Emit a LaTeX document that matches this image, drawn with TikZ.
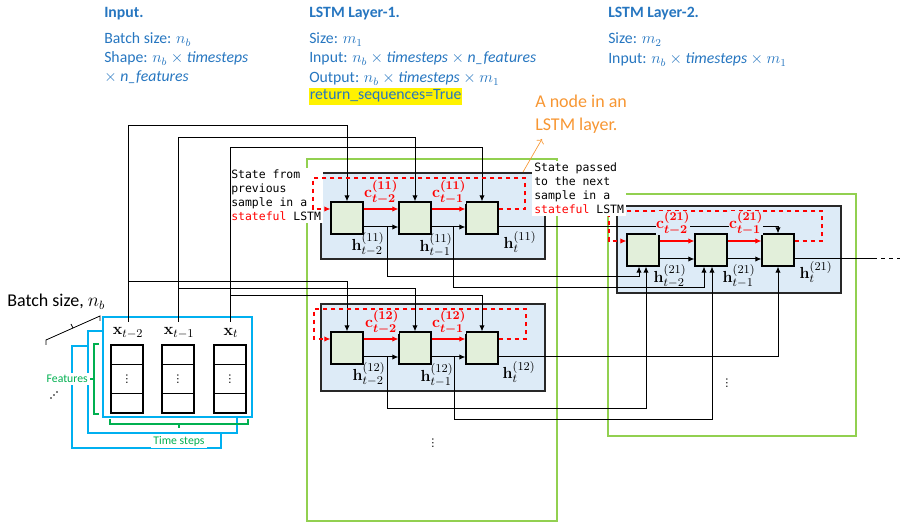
\documentclass[tikz,border=0pt]{standalone}
\usepackage[no-math]{fontspec}
\setmainfont{Carlito}
\newfontfamily\monofont{DejaVu Sans Mono}
\newfontfamily\dotsfont{DejaVu Sans}
\usetikzlibrary{arrows.meta,calc}
\definecolor{hdrblue}{RGB}{38,118,192}
\definecolor{nodeorange}{RGB}{247,150,50}
\definecolor{boxgreen}{RGB}{146,208,80}
\definecolor{layerblue}{RGB}{221,235,247}
\definecolor{cellgreen}{RGB}{226,239,218}
\definecolor{inputcyan}{RGB}{0,176,240}
\definecolor{bracegreen}{RGB}{0,176,80}
\definecolor{statered}{RGB}{255,0,0}
\definecolor{linegray}{RGB}{40,40,40}
\tikzset{
 hdr/.style={anchor=base west, inner sep=0pt, text=hdrblue, font=\fontsize{11.8}{13}\selectfont},
 hdrtitle/.style={hdr, font=\fontsize{11.8}{13}\selectfont\bfseries},
 cellbox/.style={draw=black, fill=cellgreen, line width=0.9pt, minimum size=24pt, inner sep=0pt},
 layerbox/.style={draw=linegray, fill=layerblue, line width=0.9pt},
 outerbox/.style={draw=boxgreen, line width=0.8pt},
 wire/.style={draw=black, line width=0.75pt},
 wirearr/.style={wire, -{Latex[length=4.5pt,width=4pt]}},
 redarr/.style={draw=statered, line width=0.8pt, -{Latex[length=4.5pt,width=4pt]}},
 reddash/.style={draw=statered, line width=0.8pt, dash pattern=on 3.5pt off 2.5pt, -{Latex[length=4.5pt,width=4pt]}},
 clabel/.style={text=statered, fill=layerblue, inner sep=0pt, font=\fontsize{12.5}{14}\selectfont\boldmath},
 hlabel/.style={inner sep=0pt, font=\fontsize{12.5}{14}\selectfont},
 statelabel/.style={anchor=north west, fill=white, inner sep=1.5pt, align=left, font=\monofont\fontsize{8.6}{10.5}\selectfont},
 cyanbox/.style={draw=inputcyan, fill=white, line width=0.8pt},
 colbox/.style={draw=black, line width=0.8pt, minimum width=24pt, minimum height=51pt, inner sep=0pt, font=\dotsfont\fontsize{8}{9}\selectfont},
 brace/.style={draw=bracegreen, line width=0.8pt},
 greenlabel/.style={text=bracegreen, fill=white, inner sep=1.5pt, font=\fontsize{8.8}{10}\selectfont},
 xlabel/.style={inner sep=1pt, font=\fontsize{13}{15}\selectfont},
 vdotlabel/.style={inner sep=0pt, font=\dotsfont\fontsize{8}{9}\selectfont},
}
\begin{document}
\begin{tikzpicture}[x=0.75pt,y=-0.75pt]
\useasboundingbox (0,0) rectangle (902,523);

% outer green boxes
\draw[outerbox] (307,159) rectangle (557,521);
\draw[outerbox] (608,194) rectangle (856,436);

% LSTM layer boxes
\draw[layerbox] (321,173) rectangle (545,259);
\draw[layerbox] (321,304) rectangle (545,391);
\draw[layerbox] (617,206) rectangle (841,293);

% label: state from previous sample
\node[statelabel] (statePrev) at (229,168) {State from\\previous\\sample in a\\\textcolor{statered}{stateful} LSTM};

% input block
\draw[cyanbox] (72,346) rectangle (221,448);
\draw[cyanbox] (88,331) rectangle (237,433);
\draw[cyanbox] (103,317) rectangle (252,417);
\node[colbox] (cola) at (127,379) {⋮};
\node[colbox] (colb) at (178,379) {⋮};
\node[colbox] (colc) at (230,379) {⋮};
\foreach \c in {cola,colb,colc}{
  \draw[wire] ([yshift=-15pt]\c.north west) -- ([yshift=-15pt]\c.north east);
  \draw[wire] ([yshift=15pt]\c.south west) -- ([yshift=15pt]\c.south east);
}
\node[xlabel] (xa) at (128,333) {$\mathbf{x}_{t-2}$};
\node[xlabel] (xb) at (179,333) {$\mathbf{x}_{t-1}$};
\node[xlabel] (xc) at (231,333) {$\mathbf{x}_{t}$};

% braces
\draw[brace] (99,344) -- (94,344) -- (94,414) -- (99,414);
\draw[brace] (94,379) -- (90,379);
\node[greenlabel, anchor=east] (feat) at (90,379) {Features};
\draw[brace] (110,419) -- (110,424) -- (248,424) -- (248,419);
\draw[brace] (179,424) -- (179,428);
\node[greenlabel] (tsteps) at (179,441) {Time steps};

% batch size
\node[anchor=base west, inner sep=0pt, font=\fontsize{13.5}{15}\selectfont] (batch) at (7,307) {Batch size, $n_b$};
\draw[wire, line width=0.6pt] (46,345) -- (46,340) -- (100,316) -- (100,321);
\draw[wire, line width=0.6pt] (73,328) -- (71,324);
\fill (51,398) circle[radius=0.6pt];
\fill (54,395) circle[radius=0.6pt];
\fill (57,392) circle[radius=0.6pt];

% cells
\node[cellbox] (c11a) at (347,218) {};
\node[cellbox] (c11b) at (415,218) {};
\node[cellbox] (c11c) at (482,218) {};
\node[cellbox] (c12a) at (347,348) {};
\node[cellbox] (c12b) at (415,348) {};
\node[cellbox] (c12c) at (482,348) {};
\node[cellbox] (c21a) at (643,250) {};
\node[cellbox] (c21b) at (711,250) {};
\node[cellbox] (c21c) at (778,250) {};

% input wires
\coordinate (ja) at (128,282);
\coordinate (jb) at (178,289);
\coordinate (jc) at (230,296);
\draw[wirearr] (128,322) -- (128,126) -| (c11a.north);
\draw[wirearr] (ja) -| (c12a.north);
\draw[wirearr] (178,322) -- (178,138) -| (c11b.north);
\draw[wirearr] (jb) -| (c12b.north);
\draw[wirearr] (230,322) -- (230,148) -| (c11c.north);
\draw[wirearr] (jc) -| (c12c.north);

% within-layer connections
\foreach \L in {11,12,21}{
  \draw[redarr] ([yshift=6.75pt]c\L a.east) -- ([yshift=6.75pt]c\L b.west);
  \draw[redarr] ([yshift=6.75pt]c\L b.east) -- ([yshift=6.75pt]c\L c.west);
  \draw[wirearr] ([yshift=-6.75pt]c\L a.east) -- ([yshift=-6.75pt]c\L b.west);
  \draw[wirearr] ([yshift=-6.75pt]c\L b.east) -- ([yshift=-6.75pt]c\L c.west);
}
\draw[reddash] ([yshift=6.75pt]c11c.east) -- (525,209) -- (525,178) -- (313,178) -- (313,209) -- ([yshift=6.75pt]c11a.west);
\draw[reddash] ([yshift=6.75pt]c12c.east) -- (526,339) -- (526,309) -- (314,309) -- (314,339) -- ([yshift=6.75pt]c12a.west);
\draw[reddash] ([yshift=6.75pt]c21c.east) -- (822,241) -- (822,211) -- (609,211) -- (609,241) -- ([yshift=6.75pt]c21a.west);

% layer-1 to layer-2 wires
\draw[wirearr] (387,227) |- (639,277) -- (639,0 |- c21a.south);
\draw[wirearr] (453,227) |- (704,288) -- (704,0 |- c21b.south);
\draw[wirearr] ([yshift=-6.75pt]c11c.east) -| (c21c.north);
\draw[wirearr] (387,357) |- (646,408) -- (646,0 |- c21a.south);
\draw[wirearr] (454,357) |- (712,419) -- (712,0 |- c21b.south);
\draw[wirearr] ([yshift=-6.75pt]c12c.east) -| (c21c.south);

% layer-2 output
\coordinate (outMid) at (873,259);
\coordinate (outEnd) at (900,259);
\draw[wire] ([yshift=-6.75pt]c21c.east) -- (outMid);
\draw[wire, dashed] (outMid) -- (outEnd);

% c and h labels
\node[clabel] (c11l1) at (381,192) {$\mathbf{c}_{t-2}^{(11)}$};
\node[clabel] (c11l2) at (449,192) {$\mathbf{c}_{t-1}^{(11)}$};
\node[hlabel] (h11l1) at (368,244) {$\mathbf{h}_{t-2}^{(11)}$};
\node[hlabel] (h11l2) at (436,245) {$\mathbf{h}_{t-1}^{(11)}$};
\node[hlabel] (h11l3) at (520,242) {$\mathbf{h}_{t}^{(11)}$};
\node[clabel] (c12l1) at (382,322) {$\mathbf{c}_{t-2}^{(12)}$};
\node[clabel] (c12l2) at (449,322) {$\mathbf{c}_{t-1}^{(12)}$};
\node[hlabel] (h12l1) at (369,374) {$\mathbf{h}_{t-2}^{(12)}$};
\node[hlabel] (h12l2) at (437,375) {$\mathbf{h}_{t-1}^{(12)}$};
\node[hlabel] (h12l3) at (519,372) {$\mathbf{h}_{t}^{(12)}$};
\node[clabel] (c21l1) at (673,223) {$\mathbf{c}_{t-2}^{(21)}$};
\node[clabel] (c21l2) at (746,223) {$\mathbf{c}_{t-1}^{(21)}$};
\node[hlabel] (h21l1) at (670,276) {$\mathbf{h}_{t-2}^{(21)}$};
\node[hlabel] (h21l2) at (739,276) {$\mathbf{h}_{t-1}^{(21)}$};
\node[hlabel] (h21l3) at (816,272) {$\mathbf{h}_{t}^{(21)}$};

\node[vdotlabel] (vd1) at (433,443) {⋮};
\node[vdotlabel] (vd2) at (727,383) {⋮};

% label: state passed to next sample
\node[statelabel] (stateNext) at (532,161) {State passed\\to the next\\sample in a\\\textcolor{statered}{stateful} LSTM};

% headers
\node[hdrtitle] (inTitle) at (104,18) {Input.};
\node[hdr] (inBatch) at (104,44) {Batch size: $n_b$};
\node[hdr] (inShape) at (104,63) {Shape: $n_b \times{}$\textit{timesteps}};
\node[hdr] (inShape2) at (104,82) {$\times$ \textit{n\_features}};

\node[hdrtitle] (l1Title) at (309,18) {LSTM Layer-1.};
\node[hdr] (l1Size) at (309,44) {Size: $m_1$};
\node[hdr] (l1In) at (309,63) {Input: $n_b \times{}$\textit{timesteps}${}\times{}$\textit{n\_features}};
\node[hdr] (l1Out) at (309,83) {Output: $n_b \times{}$\textit{timesteps}${}\times m_1$};
\node[hdr, fill=yellow, inner ysep=1.5pt, inner xsep=0.5pt] (l1Ret) at (309,100) {return\_sequences=True};

\node[hdrtitle] (l2Title) at (608,18) {LSTM Layer-2.};
\node[hdr] (l2Size) at (608,44) {Size: $m_2$};
\node[hdr] (l2In) at (608,64) {Input: $n_b \times{}$\textit{timesteps}${}\times m_1$};

% orange note
\node[anchor=base west, inner sep=0pt, text=nodeorange, font=\fontsize{13.5}{15}\selectfont] (note1) at (535,108) {A node in an};
\node[anchor=base west, inner sep=0pt, text=nodeorange, font=\fontsize{13.5}{15}\selectfont] (note2) at (535,131) {LSTM layer.};
\coordinate (noteTail) at (523,172);
\draw[draw=nodeorange, line width=0.5pt, -{To[length=3pt]}] (noteTail) -- (542,139);
\end{tikzpicture}
\end{document}
